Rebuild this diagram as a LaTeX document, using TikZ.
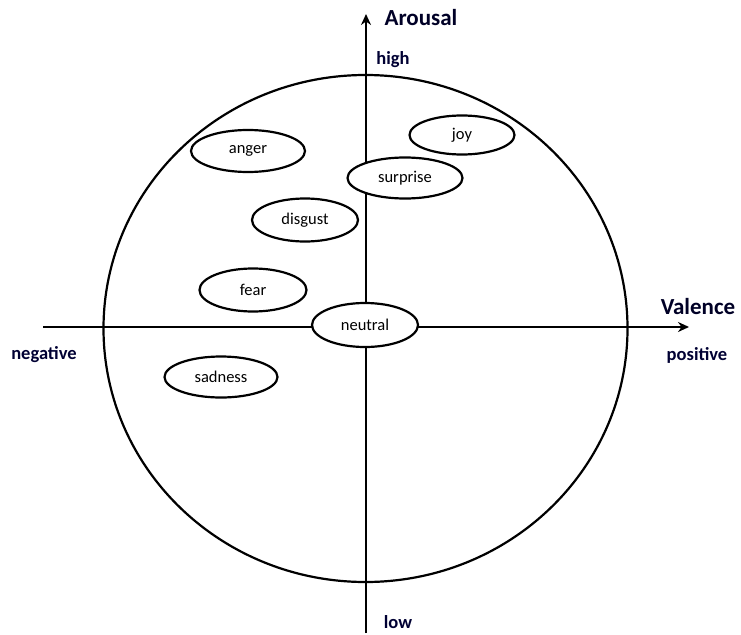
\documentclass[tikz,border=0pt]{standalone}
\usepackage{fontspec}
\setmainfont{Carlito}
\usetikzlibrary{arrows.meta,shapes.geometric}
\tikzset{
  emo/.style={draw=black, line width=2.2pt, fill=white, ellipse, inner sep=0pt, font=\fontsize{16.5}{18}\selectfont},
  axis/.style={line width=2.2pt, -{Stealth[length=11pt,width=10pt]}},
  biglabel/.style={font=\fontsize{23}{26}\selectfont\bfseries, text=black!85!blue},
  smalllabel/.style={font=\fontsize{18.5}{20}\selectfont\bfseries, text=black!80!blue}
}
\begin{document}
\begin{tikzpicture}[x=1pt,y=-1pt]
\useasboundingbox (0,0) rectangle (741,634);
\node[draw=black, line width=2.2pt, ellipse, minimum width=524pt, minimum height=507pt, inner sep=0pt] (circ) at (365.5,328.5) {};
\coordinate (hstart) at (43,327);
\coordinate (hend) at (689,327);
\coordinate (vstart) at (366,633);
\coordinate (vend) at (366,14);
\draw[axis] (hstart) -- (hend);
\draw[axis] (vstart) -- (vend);
\node[emo, minimum width=114pt, minimum height=42pt] (anger) at (248,151) {anger};
\node[emo, minimum width=105pt, minimum height=39pt] (joy) at (462,135) {joy};
\node[emo, minimum width=115pt, minimum height=41pt] (surprise) at (405,178) {surprise};
\node[emo, minimum width=106pt, minimum height=43pt] (disgust) at (305,220) {disgust};
\node[emo, minimum width=107pt, minimum height=43pt] (fear) at (253,290) {fear};
\node[emo, minimum width=106pt, minimum height=44pt] (neutral) at (365,325) {neutral};
\node[emo, minimum width=113pt, minimum height=41pt] (sadness) at (221,377) {sadness};
\node[biglabel] (arousal) at (421,18) {Arousal};
\node[biglabel] (valence) at (698,307) {Valence};
\node[smalllabel] (high) at (393,60) {high};
\node[smalllabel] (low) at (398,622) {low};
\node[smalllabel] (negative) at (44,355) {negative};
\node[smalllabel] (positive) at (697,355) {positive};
\end{tikzpicture}
\end{document}
